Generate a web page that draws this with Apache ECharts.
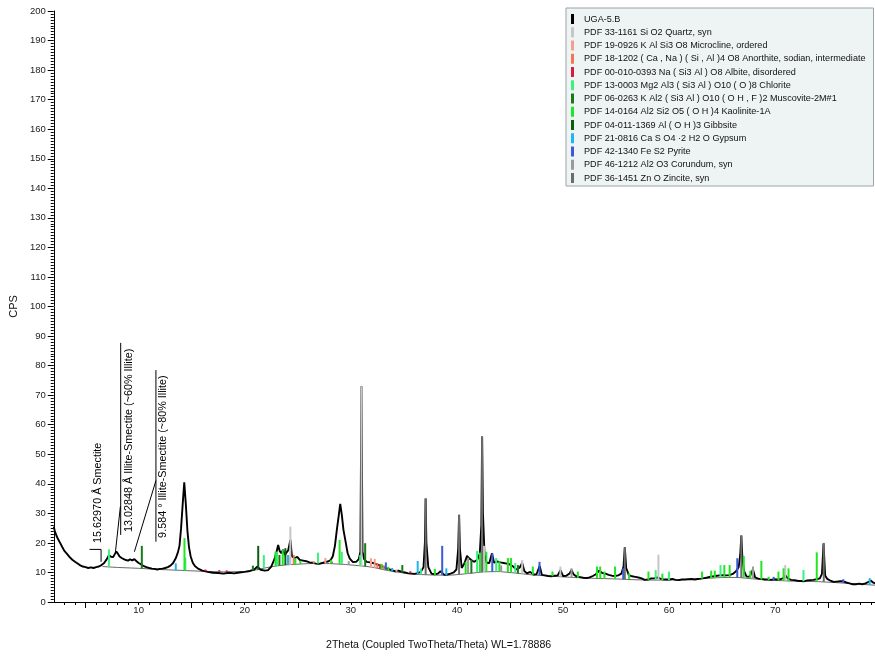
<!DOCTYPE html>
<html><head><meta charset="utf-8">
<script src="https://cdn.jsdelivr.net/npm/echarts@6/dist/echarts.min.js"></script>
<style>html,body{margin:0;padding:0;background:#fff}#c{width:875px;height:658px}</style>
</head><body><div id="c"></div>
<script>
const FONT = '"Liberation Sans", Arial, sans-serif';

// measured pattern [2theta, CPS]
const traceData = [
[2.0,25.5],[2.1,24.0],[2.25,22.5],[2.4,21.3],[2.6,20.0],[2.8,18.6],[3.0,17.3],[3.25,16.3],[3.5,15.2],[3.75,14.3],
[4.0,13.6],[4.25,13.0],[4.5,12.4],[4.75,12.0],[5.0,11.8],[5.25,11.5],[5.5,11.7],[5.75,11.5],[6.0,11.8],[6.25,12.0],
[6.5,12.5],[6.75,13.2],[7.0,14.5],[7.2,15.8],[7.4,15.3],[7.6,15.2],[7.75,16.2],[7.9,17.1],[8.05,16.3],[8.2,15.4],
[8.4,14.9],[8.6,14.5],[8.8,14.2],[9.0,14.0],[9.2,14.4],[9.4,14.1],[9.6,14.5],[9.8,13.8],[10.0,13.2],[10.2,12.8],
[10.4,12.3],[10.6,12.0],[10.8,11.7],[11.0,11.5],[11.25,11.3],[11.5,11.2],[11.75,11.0],[12.0,11.2],[12.25,11.3],[12.5,11.5],
[12.75,11.8],[13.0,12.3],[13.25,13.2],[13.5,14.8],[13.7,16.8],[13.85,19.0],[14.0,25.0],[14.15,33.0],[14.3,40.5],[14.45,33.0],
[14.6,24.0],[14.75,18.5],[14.9,15.5],[15.1,13.3],[15.3,12.2],[15.6,11.3],[16.0,10.6],[16.5,10.2],[17.0,9.9],[17.5,9.8],
[18.0,9.6],[18.5,9.9],[19.0,9.7],[19.5,10.0],[20.0,10.2],[20.5,10.5],[20.9,11.0],[21.2,12.0],[21.5,10.9],[21.9,10.6],
[22.2,10.8],[22.5,12.0],[22.8,14.5],[23.0,17.0],[23.15,19.3],[23.3,17.2],[23.45,16.5],[23.6,17.6],[23.8,15.9],[23.95,16.8],
[24.1,17.5],[24.3,21.0],[24.45,15.5],[24.7,14.8],[24.95,15.3],[25.2,14.2],[25.5,14.0],[25.8,13.8],[26.1,13.4],[26.4,13.3],
[26.7,13.0],[27.0,12.9],[27.3,13.2],[27.6,13.5],[27.9,13.8],[28.1,14.2],[28.3,15.5],[28.5,19.0],[28.7,25.0],[28.85,29.0],
[29.0,33.2],[29.15,29.5],[29.3,24.5],[29.5,20.5],[29.7,16.5],[29.9,14.7],[30.2,13.5],[30.5,13.6],[30.75,14.5],[30.9,17.0],
[31.0,73.0],[31.1,17.0],[31.25,14.5],[31.5,13.6],[31.8,13.4],[32.1,13.2],[32.4,12.8],[32.7,12.4],[33.0,12.0],[33.3,11.5],
[33.6,11.1],[33.9,10.7],[34.2,10.4],[34.5,10.6],[34.8,10.2],[35.1,10.0],[35.4,9.7],[35.7,9.6],[36.0,9.5],[36.3,9.8],
[36.6,10.2],[36.85,11.8],[36.98,20.0],[37.05,35.0],[37.12,20.0],[37.3,11.8],[37.6,9.6],[37.9,9.4],[38.2,9.6],[38.45,10.4],
[38.6,10.8],[38.8,9.2],[39.1,9.3],[39.4,9.6],[39.7,10.0],[39.95,11.0],[40.12,18.0],[40.2,29.5],[40.28,18.0],[40.45,11.5],
[40.7,13.0],[40.95,15.6],[41.15,14.8],[41.35,14.2],[41.6,13.6],[41.9,14.2],[42.15,16.3],[42.3,26.0],[42.37,56.0],[42.45,30.0],
[42.6,16.0],[42.8,13.3],[43.05,13.2],[43.3,16.5],[43.5,13.3],[43.8,13.7],[44.1,13.4],[44.4,13.2],[44.7,13.0],[45.0,12.7],
[45.3,12.0],[45.6,11.0],[45.9,11.6],[46.15,13.2],[46.35,10.5],[46.6,9.7],[46.9,10.2],[47.2,9.3],[47.5,9.4],[47.8,12.2],
[48.0,9.2],[48.3,9.0],[48.6,8.8],[48.9,8.7],[49.2,8.9],[49.5,9.0],[49.75,10.8],[50.0,8.8],[50.3,8.9],[50.6,9.6],
[50.8,10.8],[51.0,9.3],[51.3,8.6],[51.6,8.4],[51.9,8.2],[52.2,8.1],[52.5,8.3],[52.8,8.8],[53.1,9.4],[53.4,10.6],
[53.7,9.8],[54.0,9.6],[54.3,9.2],[54.6,8.9],[54.9,8.8],[55.2,9.0],[55.5,9.6],[55.7,12.0],[55.82,18.5],[55.95,11.5],
[56.2,9.1],[56.5,8.7],[56.8,8.5],[57.1,8.3],[57.4,8.0],[57.7,7.5],[58.0,7.6],[58.3,8.0],[58.6,8.0],[58.9,8.3],
[59.1,8.0],[59.4,7.7],[59.7,7.6],[60.0,7.6],[60.3,7.8],[60.6,7.5],[60.9,7.4],[61.2,7.6],[61.5,7.6],[61.8,7.7],
[62.1,7.8],[62.4,7.6],[62.7,7.8],[63.0,7.9],[63.3,8.1],[63.6,8.3],[63.9,8.6],[64.2,8.7],[64.5,8.9],[64.8,9.0],
[65.1,9.1],[65.4,9.0],[65.7,9.1],[66.0,9.5],[66.3,10.4],[66.55,11.8],[66.7,16.0],[66.8,22.5],[66.9,15.0],[67.05,10.5],
[67.3,8.6],[67.6,8.6],[67.9,11.0],[68.1,8.3],[68.4,7.9],[68.7,7.8],[69.0,7.6],[69.3,7.6],[69.6,7.5],[69.9,7.7],
[70.2,7.6],[70.5,7.7],[70.8,8.2],[70.95,9.0],[71.2,7.9],[71.5,7.5],[71.8,7.4],[72.1,7.2],[72.4,7.1],[72.7,7.0],
[73.0,7.3],[73.3,7.4],[73.6,7.5],[73.9,7.7],[74.2,8.0],[74.4,9.5],[74.55,19.8],[74.7,9.0],[74.9,7.8],[75.2,7.2],
[75.5,6.8],[75.8,6.9],[76.1,7.0],[76.4,7.0],[76.7,6.6],[77.0,6.3],[77.3,6.0],[77.6,6.0],[77.9,6.2],[78.2,6.0],
[78.5,6.3],[78.8,6.8],[79.0,7.3],[79.2,6.6],[79.4,6.3]
];

// background curve [2theta, CPS]
const backgroundData = [
[6.6,12.0],[8,11.7],[10,11.4],[12,11.0],[14,10.7],[16,10.4],[18,10.2],[20,10.3],[21,10.8],[22,11.6],[23,12.2],
[24,12.6],[26,13.0],[28,13.0],[29.5,12.7],[31,12.2],[32,11.8],[33,11.0],[34,10.3],[35,9.8],[36.5,9.3],[38,9.1],
[39.5,9.1],[41,9.6],[42.5,10.2],[44,10.3],[45.5,9.8],[47,9.2],[49,8.7],[51,8.3],[53,8.0],[55,7.8],[57,7.5],
[59,7.4],[61,7.5],[63,7.9],[65,8.3],[66.5,8.3],[68,7.8],[70,7.3],[72,7.0],[74,6.9],[76,6.5],[78,6.0],[79.4,5.7]
];

// reference sticks [2theta, bottom CPS, top CPS]
const quartzSticks = [[24.3,12.6,25.5],[31.0,12.2,73],[42.55,10.2,19],[46.15,9.6,14.2],[49.75,8.6,12],[58.99,7.4,16],[70.94,7.2,12.5]];
const microclineSticks = [[24.15,12.6,15.3],[27.6,13.0,14.9],[31.9,11.8,14.8],[32.25,11.6,14.6],[34.3,10.2,11.0]];
const anorthiteSticks = [[24.62,12.7,15.9],[26.5,13.0,13.8],[32.5,11.4,13.2],[33.1,11.0,12.4]];
const albiteSticks = [[16.3,10.4,11.0],[17.6,10.3,10.8],[18.3,10.2,10.7],[28.2,13.0,13.6],[32.75,11.2,12.7],[35.6,9.7,10.4]];
const chloriteSticks = [[7.2,11.9,17.8],[14.4,10.7,15],[21.8,11.4,15.9],[23.05,12.2,17.0],[26.9,13.0,16.7],[29.15,12.8,17.0],[30.88,12.2,15.9],[36.6,9.3,11.3],[41.9,10.0,17.3],[43.7,10.3,14.9],[45.5,9.8,13.2],[58.73,7.4,10.8],[59.98,7.4,10.3],[64.84,8.3,12.5],[72.66,7.0,10.8]];
const muscoviteSticks = [[10.3,11.4,19.0],[20.77,10.7,12.3],[23.27,12.3,15.9],[31.35,12.1,19.9],[34.85,9.9,12.5],[41.36,9.7,14.2],[45.75,9.7,12.5]];
const kaoliniteSticks = [[14.32,10.7,21.6],[22.9,12.1,17.0],[23.58,12.4,17.6],[24.77,12.7,14.8],[25.24,12.8,14.0],[28.15,13.0,14.3],[28.94,12.9,21.0],[32.9,11.1,12.9],[33.54,10.7,11.9],[37.92,9.1,11.2],[40.82,9.5,13.6],[42.17,10.1,16.7],[42.77,10.2,17],[44.0,10.3,13.8],[44.8,10.1,14.9],[45.1,10.0,14.9],[47.15,9.2,12],[49.0,8.7,10.3],[51.4,8.2,10.3],[53.2,8.0,12],[53.5,8.0,12],[53.9,7.9,10.3],[54.9,7.8,12],[56.23,7.7,9.7],[58.05,7.5,10.3],[59.36,7.4,9.6],[63.1,7.9,10.3],[63.96,8.1,10.6],[64.3,8.2,10.6],[65.2,8.3,12.5],[65.7,8.3,12.5],[67.03,8.2,15.6],[67.65,7.9,10.6],[68.69,7.6,13.9],[69.38,7.4,8.5],[70.3,7.3,10.3],[70.78,7.2,11.4],[71.25,7.1,11.4],[73.91,6.9,16.8]];
const gibbsiteSticks = [[21.27,11.0,19.0],[23.83,12.5,18.2]];
const gypsumSticks = [[13.5,10.8,13.1],[24.08,12.6,15.9],[33.9,10.4,11.5],[36.3,9.4,13.9],[39.0,9.1,11.4],[78.9,5.8,8.1]];
const pyriteSticks = [[33.3,10.8,13.4],[38.61,9.1,19.0],[43.33,10.3,16.5],[47.78,9.0,13.6],[55.67,7.7,11.4],[66.42,8.3,14.8],[69.85,7.3,8.5],[76.41,6.5,7.7]];
const corundumSticks = [[29.8,12.6,13.8],[41.05,9.6,15],[44.17,10.3,12.4],[50.8,8.3,11.4],[67.9,7.8,12.0]];
const zinciteSticks = [[37.05,9.2,35],[40.2,9.3,29.4],[42.37,10.1,56],[55.82,7.7,18.5],[66.8,8.2,22.5],[74.57,6.8,20]];

const sampleName = 'UGA-5.B';
const phaseNames = [
 'PDF 33-1161 Si O2 Quartz, syn',
 'PDF 19-0926 K Al Si3 O8 Microcline, ordered',
 'PDF 18-1202 ( Ca , Na ) ( Si , Al )4 O8 Anorthite, sodian, intermediate',
 'PDF 00-010-0393 Na ( Si3 Al ) O8 Albite, disordered',
 'PDF 13-0003 Mg2 Al3 ( Si3 Al ) O10 ( O )8 Chlorite',
 'PDF 06-0263 K Al2 ( Si3 Al ) O10 ( O H , F )2 Muscovite-2M#1',
 'PDF 14-0164 Al2 Si2 O5 ( O H )4 Kaolinite-1A',
 'PDF 04-011-1369 Al ( O H )3 Gibbsite',
 'PDF 21-0816 Ca S O4 ·2 H2 O Gypsum',
 'PDF 42-1340 Fe S2 Pyrite',
 'PDF 46-1212 Al2 O3 Corundum, syn',
 'PDF 36-1451 Zn O Zincite, syn'
];
const phaseColors = ['#c6c6c6','#f4a08c','#f07858','#d41c40','#3cf080','#177a17','#22e622','#0b5e0b','#22b4f2','#3a5ad8','#9a9a9a','#6c6c6c'];
const phaseSticks = [quartzSticks, microclineSticks, anorthiteSticks, albiteSticks, chloriteSticks, muscoviteSticks, kaoliniteSticks, gibbsiteSticks, gypsumSticks, pyriteSticks, corundumSticks, zinciteSticks];

// peak annotations
const annoTexts = ['15.62970 Å Smectite', '13.02848 Å Illite-Smectite (~60% Illite)', '9.584 ° Illite-Smectite (~80% Illite)'];
const annoTextAnchors = [[6.15,20.0],[9.06,23.7],[12.3,21.7]];
const annoLines = [[5.37,17.8,6.46,17.8],[6.46,17.8,6.46,13.6],[8.31,87.7,8.31,22.7],[8.28,32.3,7.81,16.8],[11.63,78.5,11.63,20.4],[11.63,41.1,9.6,17.0]];

const xLabelValues = [10,20,30,40,50,60,70];
const xMajorTicks = [5,15,25,35,45,55,65,75];
const xMinorTicks = [];
for (let v = 3; v <= 79; v++) if (v % 5 !== 0 || v % 10 === 0) xMinorTicks.push(v);

const chart = echarts.init(document.getElementById('c'), null, {renderer: 'canvas'});

const stickSeries = phaseNames.map((name, i) => ({
  name, type: 'custom', data: phaseSticks[i], z: 5, clip: true,
  itemStyle: {color: phaseColors[i]},
  encode: {x: 0, y: [1, 2]},
  renderItem: (params, api) => {
    const p0 = api.coord([api.value(0), api.value(1)]);
    const p1 = api.coord([api.value(0), api.value(2)]);
    return {type: 'rect', shape: {x: p0[0] - 1, y: p1[1], width: 2, height: p0[1] - p1[1]}, style: {fill: phaseColors[i]}};
  }
}));

const option = {
  animation: false,
  backgroundColor: '#fff',
  textStyle: {fontFamily: FONT},
  title: {text: '2Theta (Coupled TwoTheta/Theta) WL=1.78886', left: 326, top: 640,
    textStyle: {fontFamily: FONT, fontSize: 10.6, fontWeight: 'normal', color: '#111'}, padding: 0},
  grid: {left: 51, right: 0, top: 11, bottom: 56},
  legend: {
    orient: 'vertical', left: 566, top: 8, selectedMode: false,
    padding: [6, 8, 3, 5], itemGap: 3.25, itemWidth: 3, itemHeight: 10,
    backgroundColor: '#eef3f4', borderColor: '#9aa4a8', borderWidth: 1,
    icon: 'rect',
    textStyle: {fontFamily: FONT, fontSize: 9.1, color: '#111', padding: [0, 0, 0, 5]},
    data: [sampleName].concat(phaseNames)
  },
  xAxis: [{
    type: 'value', min: 2, max: 79.4, gridIndex: 0,
    axisLine: {show: true, lineStyle: {color: '#000', width: 1}},
    axisTick: {show: true, length: 6, customValues: xMajorTicks, lineStyle: {color: '#000'}},
    axisLabel: {customValues: xLabelValues, margin: 3, fontSize: 9.5, color: '#222', fontFamily: FONT},
    splitLine: {show: false}
  }, {
    type: 'value', min: 2, max: 79.4, gridIndex: 0, position: 'bottom',
    axisLine: {show: false},
    axisTick: {show: true, length: 3, customValues: xMinorTicks, lineStyle: {color: '#000'}},
    axisLabel: {show: false}, splitLine: {show: false}
  }],
  yAxis: {
    type: 'value', min: 0, max: 200, interval: 10,
    name: 'CPS', nameLocation: 'middle', nameGap: 28, nameRotate: 90,
    nameTextStyle: {fontFamily: FONT, fontSize: 11, color: '#111'},
    axisLine: {show: true, lineStyle: {color: '#000', width: 1}},
    axisTick: {show: true, length: 6, lineStyle: {color: '#000'}},
    minorTick: {show: true, splitNumber: 10, length: 3, lineStyle: {color: '#000'}},
    axisLabel: {margin: 8, fontSize: 9.5, color: '#222', fontFamily: FONT},
    splitLine: {show: false}, minorSplitLine: {show: false}
  },
  series: [
    {name: 'background', type: 'line', data: backgroundData, showSymbol: false, silent: true, z: 2,
     lineStyle: {color: '#444', width: 0.8}},
    {name: sampleName, type: 'line', data: traceData, showSymbol: false, z: 3,
     itemStyle: {color: '#000'}, lineStyle: {color: '#000', width: 1.9}}
  ].concat(stickSeries).concat([
    {name: 'annoLines', type: 'custom', data: annoLines, z: 6, silent: true, clip: false,
     encode: {x: [0, 2], y: [1, 3]},
     renderItem: (params, api) => {
       const a = api.coord([api.value(0), api.value(1)]);
       const b = api.coord([api.value(2), api.value(3)]);
       return {type: 'line', shape: {x1: a[0], y1: a[1], x2: b[0], y2: b[1]}, style: {stroke: '#000', lineWidth: 1}};
     }},
    {name: 'annoTexts', type: 'custom', data: annoTextAnchors, z: 6, silent: true, clip: false,
     encode: {x: 0, y: 1},
     renderItem: (params, api) => {
       const p = api.coord([api.value(0), api.value(1)]);
       return {type: 'text', x: p[0], y: p[1], rotation: Math.PI / 2,
         style: {text: annoTexts[params.dataIndex], align: 'left', verticalAlign: 'middle',
           font: '10.8px ' + FONT, fill: '#000'}};
     }}
  ])
};
chart.setOption(option);
</script></body></html>
